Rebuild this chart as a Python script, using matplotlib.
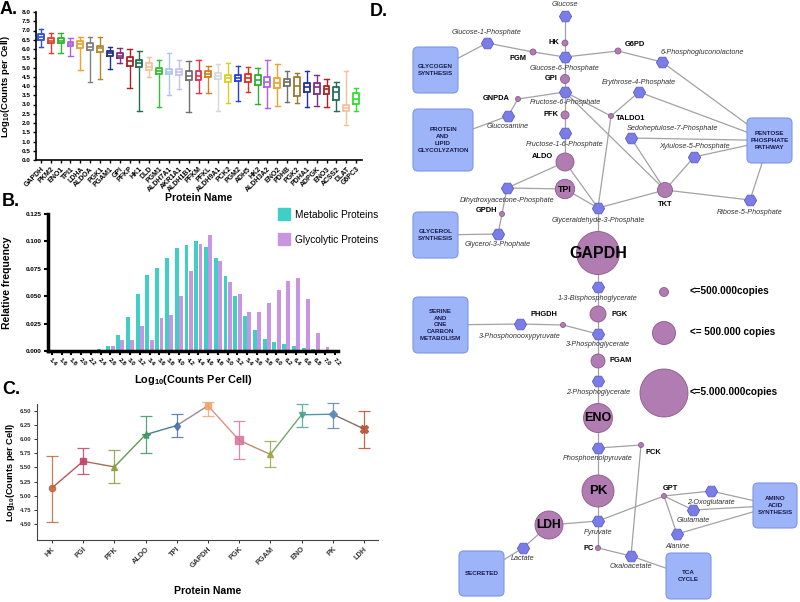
import numpy as np
import matplotlib
matplotlib.use('Agg')
import matplotlib.pyplot as plt
from matplotlib.patches import Circle, FancyBboxPatch
from matplotlib.lines import Line2D
from matplotlib.colors import to_rgb

plt.rcParams['font.family'] = ['Liberation Sans', 'DejaVu Sans']
plt.rcParams['mathtext.fontset'] = 'custom'
plt.rcParams['mathtext.rm'] = 'Liberation Sans:bold'
plt.rcParams['mathtext.bf'] = 'Liberation Sans:bold'

# ---------------- panel A : protein abundance boxes
a_names = ['GAPDH', 'PKM2', 'ENO1', 'TPI1', 'LDHA', 'ALDOA', 'PGK1', 'PGAM1', 'GPI', 'PFKP', 'HK1',
           'DLD', 'PGM1', 'ALDH7A1', 'AKR1A1', 'ALDH1B1', 'PFKM', 'PFKL', 'ALDH9A1', 'PCK2', 'PGM2',
           'ADH5', 'HK2', 'ALDH3A2', 'ENO2', 'PDHB', 'PGK2', 'PDHA1', 'ADPGK', 'ENO3', 'ACSS2', 'DLAT', 'G6PC3']
a_med = [6.64, 6.45, 6.45, 6.28, 6.25, 6.12, 6.03, 5.77, 5.64, 5.33, 5.25, 5.05, 4.82, 4.78, 4.75, 4.56, 4.52,
         4.67, 4.55, 4.42, 4.44, 4.42, 4.33, 4.22, 4.15, 4.20, 4.00, 3.95, 3.95, 3.82, 3.70, 2.82, 3.30]
a_q1 = [6.48, 6.33, 6.30, 6.17, 6.03, 5.97, 5.85, 5.61, 5.49, 5.09, 5.04, 4.86, 4.65, 4.65, 4.60, 4.32, 4.33,
        4.47, 4.38, 4.23, 4.29, 4.20, 4.05, 3.96, 3.91, 4.00, 3.48, 3.70, 3.57, 3.57, 3.25, 2.67, 3.01]
a_q3 = [6.83, 6.60, 6.60, 6.40, 6.42, 6.30, 6.17, 5.90, 5.81, 5.58, 5.43, 5.22, 5.00, 4.90, 4.90, 4.83, 4.83,
        4.83, 4.68, 4.59, 4.59, 4.65, 4.59, 4.50, 4.45, 4.39, 4.50, 4.14, 4.18, 4.02, 3.96, 2.98, 3.60]
a_lo = [6.12, 5.79, 5.79, 5.61, 4.86, 4.22, 4.39, 4.93, 5.22, 3.87, 2.65, 4.50, 2.85, 3.50, 3.82, 2.58, 3.60,
        3.64, 2.65, 3.07, 3.19, 3.68, 3.01, 2.80, 2.92, 3.12, 3.10, 2.85, 2.92, 2.89, 2.67, 1.87, 2.67]
a_hi = [7.07, 6.87, 6.87, 6.62, 6.65, 6.65, 6.65, 6.12, 6.06, 6.00, 5.90, 5.58, 5.43, 5.76, 5.43, 5.36, 5.43,
        5.08, 5.18, 5.22, 5.08, 5.04, 4.95, 5.43, 5.18, 4.83, 4.68, 4.83, 4.59, 4.39, 4.23, 4.81, 3.87]
a_colors = ['#2B4FD6', '#E0412B', '#2DB82D', '#B05FE0', '#F0A030', '#808080', '#B08830', '#1F2F8F',
            '#7F2F7F', '#B02020', '#1F6F4F', '#F2C39A', '#30C030', '#A8C8F0', '#C8C0F0', '#707070',
            '#E03050', '#D08020', '#D8D8D8', '#D8D020', '#2040E0', '#E03020', '#30B030', '#B060F0',
            '#F0A030', '#707070', '#A07830', '#1F2F9F', '#7F2F7F', '#B02020', '#1F6F5F', '#F5C09A', '#30E030']

# ---------------- panel B : histogram
b_bins = ['1.4', '1.6', '1.8', '2.0', '2.2', '2.4', '2.6', '2.8', '3.0', '3.2', '3.4', '3.6', '3.8', '4.0', '4.2',
          '4.4', '4.6', '4.8', '5.0', '5.2', '5.4', '5.6', '5.8', '6.0', '6.2', '6.4', '6.6', '6.8', '7.0', '7.2']
b_metabolic = [0, 0, 0, 0, 0.0005, 0.0018, 0.005, 0.015, 0.031, 0.052, 0.069, 0.076, 0.085, 0.094, 0.097,
               0.100, 0.095, 0.085, 0.068, 0.050, 0.032, 0.019, 0.011, 0.0078, 0.006, 0.0045, 0.003, 0.0015, 0, 0]
b_glycolytic = [0, 0, 0.0006, 0.0006, 0.0012, 0.0008, 0.005, 0.0096, 0.0096, 0.023, 0.010, 0.030, 0.033, 0.050,
                0.073, 0.098, 0.106, 0.082, 0.063, 0.052, 0.036, 0.036, 0.044, 0.056, 0.064, 0.067, 0.047,
                0.016, 0.004, 0]

# ---------------- panel C : glycolytic enzymes
c_names = ['HK', 'PGI', 'PFK', 'ALDO', 'TPI', 'GAPDH', 'PGK', 'PGAM', 'ENO', 'PK', 'LDH']
c_mean = [5.14, 5.61, 5.51, 6.08, 6.24, 6.59, 5.98, 5.73, 6.43, 6.44, 6.18]
c_low = [4.54, 5.39, 5.23, 5.75, 6.04, 6.41, 5.65, 5.51, 6.22, 6.20, 5.85]
c_high = [5.71, 5.85, 5.80, 6.40, 6.44, 6.65, 6.32, 5.97, 6.62, 6.64, 6.50]
c_colors = ['#C1643A', '#C0426A', '#8C9B3E', '#3C9466', '#4A72A8', '#F0A26E', '#D9749A', '#99A83F',
            '#46A58E', '#5A86B8', '#B4502F']
c_markers = ['o', 's', '^', '*', 'd', 's', 's', '^', 'v', 'D', 'X']

# ---------------- panel D : pathway network
met_names = {'Glc': 'Glucose', 'G1P': 'Glucose-1-Phosphate', 'G6P': 'Glucose-6-Phosphate',
             '6PGL': '6-Phosphogluconolactone', 'F6P': 'Fructose-6-Phosphate', 'E4P': 'Erythrose-4-Phosphate',
             'GlcN': 'Glucosamine', 'F16BP': 'Fructose-1-6-Phosphate', 'S7P': 'Sedoheptulose-7-Phosphate',
             'Xu5P': 'Xylulose-5-Phosphate', 'DHAP': 'Dihydroxyacetone-Phosphate', 'R5P': 'Ribose-5-Phosphate',
             'GA3P': 'Glyceraldehyde-3-Phosphate', 'Gro3P': 'Glycerol-3-Phophate',
             'BPG': '1-3-Bisphosphoglycerate', 'PHP': '3-Phosphonooxypyruvate', '3PG': '3-Phosphoglycerate',
             '2PG': '2-Phosphoglycerate', 'PEP': 'Phosphoenolpyruvate', '2OG': '2-Oxoglutarate',
             'Glu': 'Glutamate', 'Pyr': 'Pyruvate', 'Ala': 'Alanine', 'Lac': 'Lactate', 'OAA': 'Oxaloacetate'}
met_pos = {'Glc': (565, 16), 'G1P': (487, 43), 'G6P': (565, 57), '6PGL': (662, 62), 'F6P': (565, 92),
           'E4P': (639, 92), 'GlcN': (508, 116), 'F16BP': (565, 133), 'S7P': (631, 138), 'Xu5P': (694, 157),
           'DHAP': (507, 188), 'R5P': (750, 200), 'GA3P': (598, 208), 'Gro3P': (498, 234), 'BPG': (598, 287),
           'PHP': (520, 324), '3PG': (598, 334), '2PG': (598, 381), 'PEP': (598, 448), '2OG': (711, 491),
           'Glu': (693, 510), 'Pyr': (598, 521), 'Ala': (677, 534), 'Lac': (523, 548), 'OAA': (631, 556)}
met_label = {'Glc': (565, 5), 'G1P': (487, 32), 'G6P': (565, 68), '6PGL': (702, 52), 'F6P': (565, 103),
             'E4P': (639, 82), 'GlcN': (508, 127), 'F16BP': (565, 145), 'S7P': (672, 128), 'Xu5P': (694, 146),
             'DHAP': (507, 200), 'R5P': (750, 212), 'GA3P': (598, 220), 'Gro3P': (498, 245), 'BPG': (598, 298),
             'PHP': (520, 336), '3PG': (598, 345), '2PG': (598, 392), 'PEP': (598, 459), '2OG': (711, 502),
             'Glu': (693, 521), 'Pyr': (598, 532), 'Ala': (677, 546), 'Lac': (523, 559), 'OAA': (631, 567)}

enz_pos = {'HK': (565, 43), 'PGM': (533, 52), 'G6PD': (618, 51), 'GPI': (565, 79), 'GNPDA': (518, 99),
           'PFK': (565, 115), 'TALDO1': (611, 116), 'ALDO': (565, 162), 'TPI': (565, 189), 'TKT': (665, 190),
           'GPDH': (502, 214), 'GAPDH': (598, 253), 'PGK': (598, 314), 'PHGDH': (563, 325), 'PGAM': (598, 361),
           'ENO': (598, 418), 'PCK': (641, 445), 'PK': (598, 491), 'GPT': (664, 496), 'LDH': (549, 525),
           'PC': (598, 548)}
enz_r = {'HK': 3, 'PGM': 3, 'G6PD': 3, 'GPI': 4.5, 'GNPDA': 2.5, 'PFK': 4, 'TALDO1': 2.5, 'ALDO': 9,
         'TPI': 9.7, 'TKT': 7.5, 'GPDH': 2.5, 'GAPDH': 21.5, 'PGK': 8, 'PHGDH': 2.5, 'PGAM': 7, 'ENO': 14.5,
         'PCK': 2.5, 'PK': 16, 'GPT': 2.5, 'LDH': 14, 'PC': 2.5}
# label: (x, y, ha) ; enzymes in enz_inside get their name inside the circle
enz_label = {'HK': (559, 43, 'right'), 'PGM': (526, 59, 'right'), 'G6PD': (625, 44, 'left'),
             'GPI': (558, 79, 'right'), 'GNPDA': (510, 99, 'right'), 'PFK': (558, 115, 'right'),
             'TALDO1': (616, 118, 'left'), 'ALDO': (553, 157, 'right'), 'TKT': (665, 204, 'center'),
             'GPDH': (497, 210, 'right'), 'PGK': (612, 314, 'left'), 'PHGDH': (557, 314, 'right'),
             'PGAM': (610, 361, 'left'), 'PCK': (646, 452, 'left'), 'GPT': (670, 488, 'center'),
             'PC': (594, 548, 'right')}
enz_inside = {'GAPDH': 11.5, 'ENO': 9, 'PK': 9.5, 'LDH': 8.7, 'TPI': 6.3}

boxes = {'GLYCOGEN': ('GLYCOGEN\nSYNTHESIS', 413, 47, 45, 46),
         'PROTEIN': ('PROTEIN\nAND\nLIPID\nGLYCOLYZATION', 413, 109, 60, 62),
         'PPP': ('PENTOSE\nPHOSPHATE\nPATHWAY', 747, 118, 45, 45),
         'GLYCEROL': ('GLYCEROL\nSYNTHESIS', 413, 212, 45, 46),
         'SERINE': ('SERINE\nAND\nONE\nCARBON\nMETABOLISM', 413, 297, 55, 56),
         'AMINO': ('AMINO\nACID\nSYNTHESIS', 753, 483, 44, 45),
         'SECRETED': ('SECRETED', 459, 551, 45, 45),
         'TCA': ('TCA\nCYCLE', 666, 553, 45, 46)}

edges = [('Glc', 'HK'), ('HK', 'G6P'), ('G6P', 'PGM'), ('PGM', 'G1P'), ('G1P', 'GLYCOGEN'),
         ('G6P', 'G6PD'), ('G6PD', '6PGL'), ('6PGL', 'PPP'), ('G6P', 'GPI'), ('GPI', 'F6P'),
         ('F6P', 'GNPDA'), ('GNPDA', 'GlcN'), ('GlcN', 'PROTEIN'), ('F6P', 'TALDO1'), ('F6P', 'TKT'),
         ('TALDO1', 'E4P'), ('TALDO1', 'GA3P'), ('E4P', 'PPP'), ('S7P', 'PPP'), ('S7P', 'TKT'),
         ('Xu5P', 'PPP'), ('Xu5P', 'TKT'), ('TKT', 'GA3P'), ('TKT', 'R5P'), ('R5P', 'PPP'),
         ('F6P', 'PFK'), ('PFK', 'F16BP'), ('F16BP', 'ALDO'), ('ALDO', 'DHAP'), ('ALDO', 'GA3P'),
         ('DHAP', 'TPI'), ('TPI', 'GA3P'), ('DHAP', 'GPDH'), ('GPDH', 'Gro3P'), ('Gro3P', 'GLYCEROL'),
         ('GA3P', 'GAPDH'), ('GAPDH', 'BPG'), ('BPG', 'PGK'), ('PGK', '3PG'), ('3PG', 'PHGDH'),
         ('PHGDH', 'PHP'), ('PHP', 'SERINE'), ('3PG', 'PGAM'), ('PGAM', '2PG'), ('2PG', 'ENO'),
         ('ENO', 'PEP'), ('PEP', 'PCK'), ('PCK', 'OAA'), ('PEP', 'PK'), ('PK', 'Pyr'), ('Pyr', 'LDH'),
         ('LDH', 'Lac'), ('Lac', 'SECRETED'), ('Pyr', 'GPT'), ('GPT', '2OG'), ('GPT', 'Glu'),
         ('GPT', 'Ala'), ('2OG', 'AMINO'), ('Glu', 'AMINO'), ('Ala', 'AMINO'), ('Pyr', 'PC'),
         ('PC', 'OAA'), ('OAA', 'TCA')]

size_legend = ['<=500.000copies', '<= 500.000 copies', '<=5.000.000copies']
size_legend_r = [4.5, 11.5, 24]

fig = plt.figure(figsize=(8, 6.02), dpi=100)


def fax(left, top, right, bottom):
    # axes from pixel box of the 800x602 figure
    return fig.add_axes([left / 800, 1 - bottom / 602, (right - left) / 800, (bottom - top) / 602])


bold = dict(fontweight='bold')

# ---------------- A
axA = fax(36, 12, 362, 160)
stats = []
for i in range(len(a_names)):
    stats.append(dict(med=a_med[i], q1=a_q1[i], q3=a_q3[i], whislo=a_lo[i], whishi=a_hi[i], fliers=[]))
bp = axA.bxp(stats, positions=range(len(a_names)), widths=0.6, showfliers=False, capwidths=0.45)
for i, c in enumerate(a_colors):
    bp['boxes'][i].set(color=c, lw=1.3)
    bp['medians'][i].set(color=c, lw=1.2)
    for art in bp['whiskers'][2 * i:2 * i + 2] + bp['caps'][2 * i:2 * i + 2]:
        art.set(color=c, lw=1.0)
axA.set_xlim(-0.5, 32.6)
axA.set_ylim(0, 8)
axA.set_yticks(np.arange(0, 8.01, 0.5))
axA.set_yticklabels(['%.1f' % v for v in np.arange(0, 8.01, 0.5)], fontsize=4.6, **bold)
axA.set_xticks(range(len(a_names)))
axA.set_xticklabels(a_names, rotation=45, ha='right', rotation_mode='anchor', fontsize=5, **bold)
for s in ['top', 'right']:
    axA.spines[s].set_visible(False)
for s in ['left', 'bottom']:
    axA.spines[s].set_linewidth(1.2)
axA.tick_params(width=1, length=2.5, pad=1.5)
axA.set_ylabel('Log$_{10}$(Counts per Cell)', fontsize=6.8, **bold)
axA.yaxis.set_label_coords(-0.074, 0.5)
axA.set_xlabel('Protein Name', fontsize=7.5, **bold)
axA.xaxis.set_label_coords(0.5, -0.225)

# ---------------- B
axB = fax(48, 214, 338, 351)
x = np.arange(len(b_bins))
teal = '#3ECFC6'
lilac = '#C995E2'
axB.bar(x - 0.22, b_metabolic, width=0.4, color=teal)
axB.bar(x + 0.22, b_glycolytic, width=0.4, color=lilac)
axB.set_xlim(-0.4, 29.3)
axB.set_ylim(0, 0.125)
axB.set_yticks(np.arange(0, 0.126, 0.025))
axB.set_yticklabels(['%.3f' % v for v in np.arange(0, 0.126, 0.025)], fontsize=4.6, **bold)
axB.set_xticks(x)
axB.set_xticklabels(b_bins, rotation=-45, ha='left', rotation_mode='anchor', fontsize=4.6, **bold)
for s in ['top', 'right']:
    axB.spines[s].set_visible(False)
for s in ['left', 'bottom']:
    axB.spines[s].set_linewidth(2.5)
axB.tick_params(width=1.5, length=3, pad=1.5)
axB.set_ylabel('Relative frequency', fontsize=7.5, **bold)
axB.yaxis.set_label_coords(-0.124, 0.5)
axB.set_xlabel('Log$_{10}$(Counts Per Cell)', fontsize=7.8, **bold)
axB.xaxis.set_label_coords(0.5, -0.16)
handles = [Line2D([], [], marker='s', ls='none', color=teal, markersize=8),
           Line2D([], [], marker='s', ls='none', color=lilac, markersize=8)]
axB.legend(handles, ['Metabolic Proteins', 'Glycolytic Proteins'], loc='upper left',
           bbox_to_anchor=(279 / 800, 1 - 210 / 602), bbox_transform=fig.transFigure, frameon=False,
           fontsize=7.3, handlelength=1.0, handletextpad=0.6, labelspacing=1.45, borderpad=0,
           borderaxespad=0)

# ---------------- C
axC = fax(37, 404, 378, 540)
xc = np.arange(len(c_names))
for i in range(len(c_names) - 1):
    col = tuple((np.array(to_rgb(c_colors[i])) + np.array(to_rgb(c_colors[i + 1]))) / 2)
    axC.plot([xc[i], xc[i + 1]], [c_mean[i], c_mean[i + 1]], color=col, lw=1.0, zorder=2)
for i in range(len(c_names)):
    yerr = [[c_mean[i] - c_low[i]], [c_high[i] - c_mean[i]]]
    ms = 6 if c_markers[i] in ('*', 'X') else 4.5
    if i == 6:
        ms = 6
    axC.errorbar(xc[i], c_mean[i], yerr=yerr, fmt=c_markers[i], color=c_colors[i], ms=ms,
                 mfc=c_colors[i], mec=c_colors[i], alpha=0.85, capsize=4, elinewidth=0.9,
                 capthick=0.9, zorder=3, clip_on=False)
axC.set_xlim(-0.48, 10.45)
axC.set_ylim(4.22, 6.62)
axC.set_yticks(np.arange(4.5, 6.51, 0.25))
axC.set_yticklabels(['%.2f' % v for v in np.arange(4.5, 6.51, 0.25)], fontsize=4.2, **bold)
axC.set_xticks(xc)
axC.set_xticklabels(c_names, rotation=45, ha='right', rotation_mode='anchor', fontsize=5.3, **bold)
for s in ['top', 'right']:
    axC.spines[s].set_visible(False)
for s in ['left', 'bottom']:
    axC.spines[s].set_linewidth(0.8)
    axC.spines[s].set_color('#444444')
axC.tick_params(width=0.7, length=2.5, pad=1.5, colors='#333333')
axC.set_ylabel('Log$_{10}$(Counts per Cell)', fontsize=6.6, **bold)
axC.yaxis.set_label_coords(-0.058, 0.5)
axC.set_xlabel('Protein Name', fontsize=7.5, **bold)
axC.xaxis.set_label_coords(0.5, -0.34)

# ---------------- D
axD = fax(395, 0, 800, 602)
axD.set_xlim(395, 800)
axD.set_ylim(602, 0)
axD.axis('off')

pos = {}
pos.update(met_pos)
pos.update(enz_pos)
for k, (txt, bx, by, bw, bh) in boxes.items():
    pos[k] = (bx + bw / 2, by + bh / 2)

for a, b in edges:
    axD.plot([pos[a][0], pos[b][0]], [pos[a][1], pos[b][1]], color='#A2A2A2', lw=0.9, zorder=1)

for k, (txt, bx, by, bw, bh) in boxes.items():
    axD.add_patch(FancyBboxPatch((bx, by), bw, bh, boxstyle='round,pad=0,rounding_size=5',
                                 fc='#9DB5F8', ec='#7C96E4', lw=0.8, zorder=3))
    axD.text(bx + bw / 2, by + bh / 2, txt, ha='center', va='center', fontsize=4.5, color='#1A1A4A',
             linespacing=1.45, zorder=5, **bold)

mx = [p[0] for p in met_pos.values()]
my = [p[1] for p in met_pos.values()]
axD.scatter(mx, my, s=78, marker='H', c='#7B7DE6', edgecolors='#5C5FC8', linewidths=0.6, zorder=3)
for k, name in met_names.items():
    lx, ly = met_label[k]
    axD.text(lx, ly, name, ha='center', va='center', fontsize=5.2, style='italic', color='#333333', zorder=5)

for k, (ex, ey) in enz_pos.items():
    axD.add_patch(Circle((ex, ey), enz_r[k], fc='#B07CB1', ec='#8C5A8D', lw=0.6, zorder=3))
    if k in enz_inside:
        axD.text(ex, ey, k, ha='center', va='center', fontsize=enz_inside[k], zorder=5, **bold)
    else:
        lx, ly, ha = enz_label[k]
        axD.text(lx, ly, k, ha=ha, va='center', fontsize=5.4, zorder=5, **bold)

leg_y = [292, 333, 393]
for r, lab, ly in zip(size_legend_r, size_legend, leg_y):
    axD.add_patch(Circle((664, ly), r, fc='#B07CB1', ec='#8C5A8D', lw=0.6, zorder=3))
    axD.text(690, ly - 1, lab, ha='left', va='center', fontsize=7.2, zorder=5, **bold)

# panel letters
fig.text(0 / 800, 1 - 1 / 602, 'A.', fontsize=13, va='top', ha='left', **bold)
fig.text(2 / 800, 1 - 193 / 602, 'B.', fontsize=13, va='top', ha='left', **bold)
fig.text(2 / 800, 1 - 381 / 602, 'C.', fontsize=13, va='top', ha='left', **bold)
fig.text(370 / 800, 1 - 3 / 602, 'D.', fontsize=13, va='top', ha='left', **bold)

fig.savefig('out.png', dpi=100)
